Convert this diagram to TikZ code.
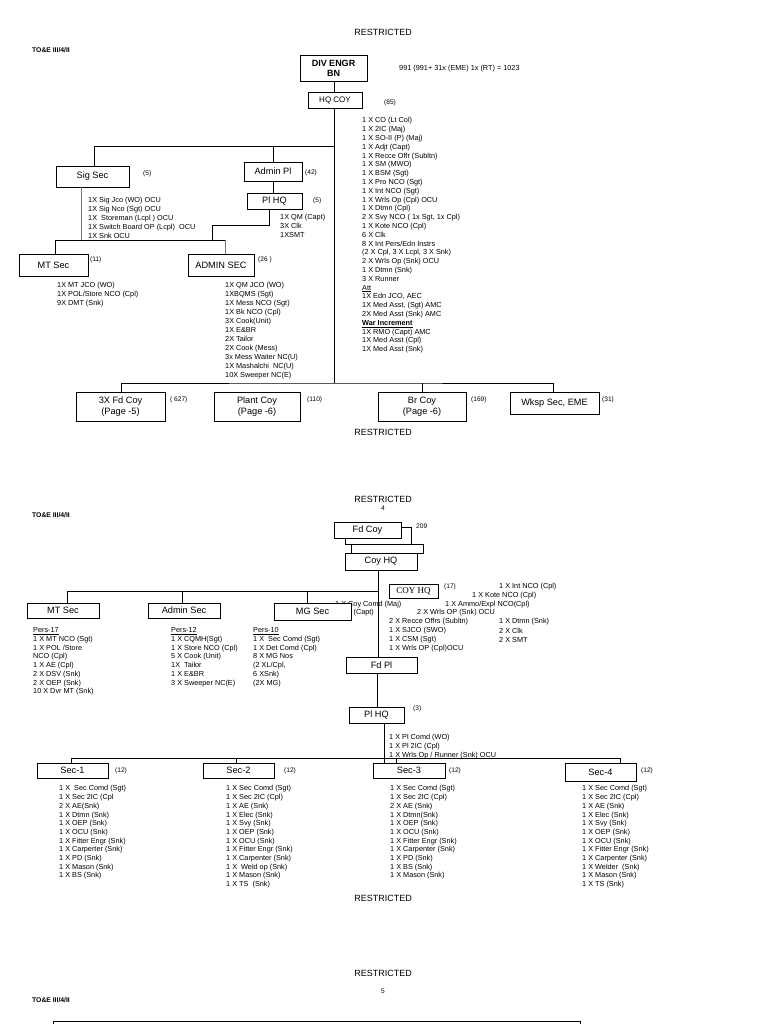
\documentclass[tikz,border=0pt]{standalone}
\usepackage{fontspec}
\setmainfont{Liberation Sans}
\newfontfamily\timesfont{Liberation Serif}
\begin{document}
\begin{tikzpicture}[x=1pt,y=-1pt,
  conn/.style={line width=0.8pt},
  faint/.style={line width=0.8pt, draw=black!55},
  box/.style={draw, fill=white, line width=0.8pt, inner sep=0pt, align=center, font=\fontsize{9.2}{11.5}\selectfont},
  lst/.style={anchor=north west, inner sep=0pt, align=left, font=\fontsize{7.3}{#1}\selectfont},
  lst/.default=8.8,
  cnt/.style={anchor=west, inner sep=0pt, font=\fontsize{6.6}{8}\selectfont},
  txt/.style={anchor=west, inner sep=0pt, font=\fontsize{7.3}{8.8}\selectfont},
  hdr/.style={inner sep=0pt, font=\fontsize{9}{11}\selectfont},
  toe/.style={anchor=west, inner sep=0pt, font=\bfseries\fontsize{6.8}{8}\selectfont},
]
\fill[white] (0,0) rectangle (768,1024);
\useasboundingbox (0,0) rectangle (768,1024);

% ================= PAGE 1 =================
\node[hdr] (r1) at (383,32) {RESTRICTED};
\node[toe] (t1) at (32,50) {TO\&E III/4/II};
\node[txt] (tot) at (399,69) {991 (991+ 31x (EME) 1x (RT) = 1023};

\coordinate (mb) at (334,383);
\coordinate (js) at (334,146);
\coordinate (jl) at (55,240);
\coordinate (jr) at (225,240);
\coordinate (jp) at (212,240);

% boxes page 1
\node[box, font=\bfseries\fontsize{9}{10}\selectfont, minimum width=67pt, minimum height=26pt] (divbn) at (333.5,68) {DIV ENGR\\BN};
\node[box, font=\fontsize{8}{9}\selectfont, minimum width=54pt, minimum height=16pt] (hqcoy) at (335,100) {HQ COY};
\node[box, minimum width=73pt, minimum height=21pt] (sigsec) at (92.5,176.5) {Sig Sec};
\node[box, minimum width=58pt, minimum height=19pt] (adminpl) at (273,171.5) {Admin Pl};
\node[box, minimum width=55pt, minimum height=16pt] (plhq) at (274.5,201) {Pl HQ};
\node[box, minimum width=69pt, minimum height=22pt] (mtsec) at (53.5,265) {MT Sec};
\node[box, minimum width=66pt, minimum height=22pt] (adminsec) at (221,265) {ADMIN SEC};
\node[box, minimum width=89pt, minimum height=29pt] (fdcoy) at (120.5,406.5) {3X Fd Coy\\(Page -5)};
\node[box, minimum width=86pt, minimum height=29pt] (plantcoy) at (257,406.5) {Plant Coy\\(Page -6)};
\node[box, minimum width=88pt, minimum height=29pt] (brcoy) at (422,406.5) {Br Coy\\(Page -6)};
\node[box, minimum width=89pt, minimum height=22pt] (wksp) at (554.5,403) {Wksp Sec, EME};

% connectors page 1
\draw[conn] ([xshift=0.5pt]divbn.south) -- ([xshift=0.5pt]divbn.south |- hqcoy.north);
\draw[conn] ([xshift=-1pt]hqcoy.south) -- (mb);
\draw[conn] ([xshift=1.5pt]sigsec.north) |- (js);
\draw[conn] (adminpl.north) -- (adminpl.north |- js);
\draw[conn] (adminpl.south) -- (adminpl.south |- plhq.north);
\draw[conn] ([xshift=-5.5pt]plhq.south) -- ++(0,16) -| (jp);
\draw[conn] ([xshift=1.5pt]mtsec.north) |- (jr);
\draw[faint] (jr) -- (jr |- adminsec.north);
\draw[faint] ([xshift=-11.5pt]sigsec.south) -- ([xshift=-11.5pt]sigsec.south |- jl);
\draw[conn] ([xshift=0.5pt]fdcoy.north) |- (mb) -| ([xshift=-1.5pt]wksp.north);
\draw[conn] (brcoy.north) -- (brcoy.north |- mb);

% counts page 1
\node[cnt] (c85) at (384,103) {(85)};
\node[cnt] (c5a) at (143,174) {(5)};
\node[cnt] (c42) at (305,173) {(42)};
\node[cnt] (c5b) at (313,201) {(5)};
\node[cnt] (c11) at (90,260) {(11)};
\node[cnt] (c26) at (258,260) {(26 )};
\node[cnt] (c627) at (170,400) {( 627)};
\node[cnt] (c110) at (307,400) {(110)};
\node[cnt] (c169) at (471,400) {(169)};
\node[cnt] (c31) at (602,400) {(31)};

% lists page 1
\node[lst] (hqlist) at (362,117.4) {1 X CO (Lt Col)\\1 X 2IC (Maj)\\1 X SO-II (P) (Maj)\\1 X Adjt (Capt)\\1 X Recce Offr (Subltn)\\1 X SM (MWO)\\1 X BSM (Sgt)\\1 X Pro NCO (Sgt)\\1 X Int NCO (Sgt)\\1 X Wrls Op (Cpl) OCU\\1 X Dtmn (Cpl)\\2 X Svy NCO ( 1x Sgt, 1x Cpl)\\1 X Kote NCO (Cpl)\\6 X Clk\\8 X Int Pers/Edn Instrs\\(2 X Cpl, 3 X Lcpl, 3 X Snk)\\2 X Wrls Op (Snk) OCU\\1 X Dtmn (Snk)\\3 X Runner\\\underline{Att}\\1X Edn JCO, AEC\\1X Med Asst,  (Sgt) AMC\\2X Med Asst (Snk) AMC\\\textbf{\underline{War Increment}}\\1X RMO (Capt) AMC\\1X Med Asst (Cpl)\\1X Med Asst (Snk)};
\node[lst] (siglist) at (88,197.4) {1X Sig Jco (WO) OCU\\1X Sig Nco (Sgt) OCU\\1X \ Storeman (Lcpl ) OCU\\1X Switch Board OP (Lcpl) \ OCU\\1X Snk OCU};
\node[lst=9] (plhqlist) at (280,214.4) {1X QM (Capt)\\3X Clk\\1XSMT};
\node[lst=9] (mtlist) at (57,282.4) {1X MT JCO (WO)\\1X POL/Store NCO (Cpl)\\9X DMT (Snk)};
\node[lst=9] (adminlist) at (225,282.4) {1X QM JCO (WO)\\1XBQMS (Sgt)\\1X Mess NCO (Sgt)\\1X Bk NCO (Cpl)\\3X Cook(Unit)\\1X E\&BR\\2X Tailor\\2X Cook (Mess)\\3x Mess Waiter NC(U)\\1X Mashalchi \ NC(U)\\10X Sweeper NC(E)};

\node[hdr] (r2) at (383,432) {RESTRICTED};

% ================= PAGE 2 =================
\node[hdr] (r3) at (383,499) {RESTRICTED};
\node[cnt, anchor=center] (pg4) at (383,508) {4};
\node[toe] (t2) at (32,515) {TO\&E III/4/II};

\coordinate (j2) at (378,591);
\coordinate (sb) at (0,758);

% Coy Comd text partly hidden under MG Sec box
\node[txt] (coycomd) at (335,604.5) {1 X Coy Comd (Maj)};
\node[txt] (twoic) at (327,613) {1 X 2IC (Capt)};

% stacked boxes
\node[box, minimum width=66pt, minimum height=17pt] (stackb) at (378,535.5) {};
\node[box, minimum width=67pt, minimum height=16pt] (fdcoy2) at (367.5,530) {Fd Coy};
\node[box, minimum width=72pt, minimum height=9pt] (stackc) at (387,548.5) {};
\node[box, minimum width=72pt, minimum height=17pt] (coyhq) at (381,561.5) {Coy HQ};
\node[cnt] (c209) at (416,526) {209};

\draw[conn] ([xshift=-3pt]coyhq.south) -- (j2);

\node[box, minimum width=72pt, minimum height=15pt] (mt2) at (63,610.5) {MT Sec};
\node[box, minimum width=72pt, minimum height=15pt] (admin2) at (184,610.5) {Admin Sec};
\node[box, minimum width=77pt, minimum height=17pt] (mg2) at (312.5,611.5) {MG Sec};
\node[box, font=\timesfont\fontsize{9}{10}\selectfont, minimum width=49pt, minimum height=14pt] (coyhqs) at (413.5,591) {COY HQ};
\node[box, minimum width=71pt, minimum height=16pt] (fdpl) at (381.5,665) {Fd Pl};
\node[box, minimum width=55pt, minimum height=16pt] (plhq2) at (376.5,715) {Pl HQ};
\node[box, minimum width=71pt, minimum height=15pt] (sec1) at (72.5,770.5) {Sec-1};
\node[box, minimum width=71pt, minimum height=15pt] (sec2) at (238.5,770.5) {Sec-2};
\node[box, minimum width=72pt, minimum height=15pt] (sec3) at (409,770.5) {Sec-3};
\node[box, minimum width=71pt, minimum height=18pt] (sec4) at (600.5,772) {Sec-4};

% connectors page 2
\draw[conn] ([xshift=4pt]mt2.north) |- (j2);
\draw[conn] ([xshift=-2pt]admin2.north) -- ([xshift=-2pt]admin2.north |- j2);
\draw[conn] ([xshift=-5.5pt]mg2.north) -- ([xshift=-5.5pt]mg2.north |- j2);
\draw[conn] (j2) -- (j2 |- fdpl.north);
\draw[conn] ([xshift=-4.5pt]fdpl.south) -- ([xshift=-4.5pt]fdpl.south |- plhq2.north);
\draw[conn] ([xshift=7.5pt]plhq2.south) -- ([xshift=7.5pt]plhq2.south |- sec3.north);
\draw[conn] ([xshift=-1.5pt]sec1.north) |- ([xshift=19.5pt]sec4.north |- sb) -- ([xshift=19.5pt]sec4.north);
\draw[conn] ([xshift=-2.5pt]sec2.north) -- ([xshift=-2.5pt]sec2.north |- sb);
\draw[conn] ([xshift=-13pt]sec3.north) -- ([xshift=-13pt]sec3.north |- sb);

% counts page 2
\node[cnt] (c17) at (444,587) {(17)};
\node[cnt] (c3) at (413,709) {(3)};
\node[cnt] (c12a) at (115,771) {(12)};
\node[cnt] (c12b) at (284,771) {(12)};
\node[cnt] (c12c) at (449,771) {(12)};
\node[cnt] (c12d) at (641,771) {(12)};

% COY HQ scattered text
\node[txt] (h1) at (499,587) {1 X Int NCO (Cpl)};
\node[txt] (h2) at (472,595.5) {1 X Kote NCO (Cpl)};
\node[txt] (h3) at (445,604.5) {1 X Ammo/Expl NCO(Cpl)};
\node[txt] (h4) at (417,613) {2 X Wrls OP (Snk) OCU};
\node[txt] (h5) at (389,622) {2 X Recce Offrs (Subltn)};
\node[txt] (h6) at (389,631) {1 X SJCO (SWO)};
\node[txt] (h7) at (389,639.5) {1 X CSM (Sgt)};
\node[txt] (h8) at (389,648.5) {1 X Wrls OP (Cpl)OCU};
\node[txt] (h9) at (499,622) {1 X Dtmn (Snk)};
\node[txt] (h10) at (499,631) {2 X Clk};
\node[txt] (h11) at (499,639.5) {2 X SMT};

% lists page 2
\node[lst=8.75] (mt2list) at (33,627.4) {\underline{Pers-17}\\1 X MT NCO (Sgt)\\1 X POL /Store\\NCO (Cpl)\\1 X AE (Cpl)\\2 X DSV (Snk)\\2 X OEP (Snk)\\10 X Dvr MT (Snk)};
\node[lst=8.75] (admin2list) at (171,627.4) {\underline{Pers-12}\\1 X CQMH(Sgt)\\1 X Store NCO (Cpl)\\5 X Cook (Unit)\\1X \ Tailor\\1 X E\&BR\\3 X Sweeper NC(E)};
\node[lst=8.75] (mg2list) at (253,627.4) {\underline{Pers-10}\\1 X \ Sec Comd (Sgt)\\1 X Det Comd (Cpl)\\8 X MG Nos\\(2 XL/Cpl,\\6 XSnk)\\(2X MG)};
\node[lst=8.6] (plhq2list) at (389,734.4) {1 X Pl Comd (WO)\\1 X Pl 2IC (Cpl)\\1 X Wrls Op / Runner (Snk) OCU};

\node[lst=8.7] (sec1list) at (59,785.4) {1 X \ Sec Comd (Sgt)\\1 X Sec 2IC (Cpl\\2 X AE(Snk)\\1 X Dtmn (Snk)\\1 X OEP (Snk)\\1 X OCU (Snk)\\1 X Fitter Engr (Snk)\\1 X Carperter (Snk)\\1 X PD (Snk)\\1 X Mason (Snk)\\1 X BS (Snk)};
\node[lst=8.7] (sec2list) at (226,785.4) {1 X Sec Comd (Sgt)\\1 X Sec 2IC (Cpl)\\1 X AE (Snk)\\1 X Elec (Snk)\\1 X Svy (Snk)\\1 X OEP (Snk)\\1 X OCU (Snk)\\1 X Fitter Engr (Snk)\\1 X Carpenter (Snk)\\1 X \ Weld op (Snk)\\1 X Mason (Snk)\\1 X TS \ (Snk)};
\node[lst=8.7] (sec3list) at (390,785.4) {1 X Sec Comd (Sgt)\\1 X Sec 2IC (Cpl)\\2 X AE (Snk)\\1 X Dtmn(Snk)\\1 X OEP (Snk)\\1 X OCU (Snk)\\1 X Fitter Engr (Snk)\\1 X Carpenter (Snk)\\1 X PD (Snk)\\1 X BS (Snk)\\1 X Mason (Snk)};
\node[lst=8.7] (sec4list) at (582,785.4) {1 X Sec Comd (Sgt)\\1 X Sec 2IC (Cpl)\\1 X AE (Snk)\\1 X Elec (Snk)\\1 X Svy (Snk)\\1 X OEP (Snk)\\1 X OCU (Snk)\\1 X Fitter Engr (Snk)\\1 X Carpenter (Snk)\\1 X Welder \ (Snk)\\1 X Mason (Snk)\\1 X TS (Snk)};

\node[hdr] (r4) at (383,898) {RESTRICTED};

% ================= PAGE 3 =================
\node[hdr] (r5) at (383,973) {RESTRICTED};
\node[cnt, anchor=center] (pg5) at (383,991) {5};
\node[toe] (t3) at (32,1000) {TO\&E III/4/II};
\begin{scope}
\clip (0,0) rectangle (768,1024);
\draw[conn] (53,1021) rectangle (580,1040);
\end{scope}
\end{tikzpicture}
\end{document}
